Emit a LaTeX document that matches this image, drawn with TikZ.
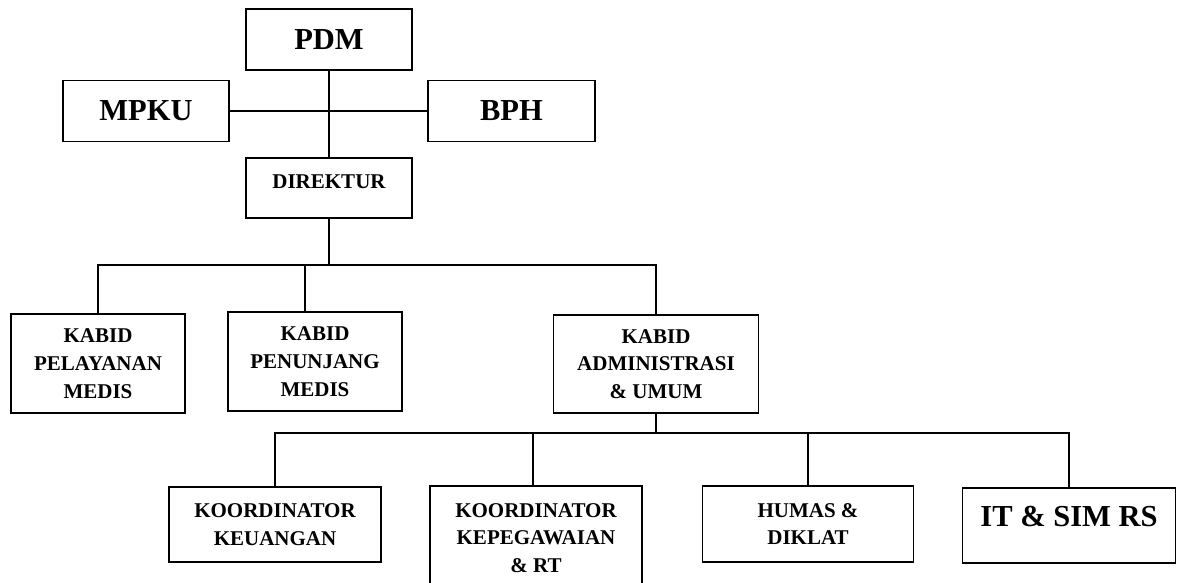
\documentclass[tikz,border=0pt]{standalone}
\usepackage{fontspec}
\setmainfont{Liberation Serif}
\usetikzlibrary{positioning}

\begin{document}
\begin{tikzpicture}[x=1pt,y=-1pt,
  box/.style={draw,line width=1.2pt,inner sep=0pt,align=center,
    font=\bfseries\fontsize{21}{27.7}\selectfont},
  bigbox/.style={box,font=\bfseries\fontsize{30.5}{36}\selectfont},
  link/.style={line width=2pt}]
 \useasboundingbox (0,0) rectangle (1181,583);
 \clip (0,0) rectangle (1181,583);
 % top
 \node[bigbox,minimum width=166pt,minimum height=61pt] (pdm) at (329,39.5) {PDM};
 \node[bigbox,minimum width=166pt,minimum height=61pt] (mpku) at (146,111) {MPKU};
 \node[bigbox,minimum width=167pt,minimum height=61pt] (bph) at (511.5,111) {BPH};
 \node[box,minimum width=166pt,minimum height=60pt,text depth=13pt] (direktur) at (329,188) {DIREKTUR};
 % kabid
 \node[box,minimum width=174pt,minimum height=99pt] (pelayanan) at (98,363.5) {KABID\\PELAYANAN\\MEDIS};
 \node[box,minimum width=174pt,minimum height=99pt] (penunjang) at (315,361.5) {KABID\\PENUNJANG\\MEDIS};
 \node[box,minimum width=205pt,minimum height=98pt] (admin) at (656,364) {KABID\\ADMINISTRASI\\\& UMUM};
 % koordinator
 \node[box,minimum width=212pt,minimum height=75pt] (keuangan) at (275,524.5) {KOORDINATOR\\KEUANGAN};
 \node[box,minimum width=212pt,minimum height=104pt] (kepeg) at (536,538) {KOORDINATOR\\KEPEGAWAIAN\\\& RT};
 \node[box,minimum width=211pt,minimum height=76pt] (humas) at (808,524) {HUMAS \&\\DIKLAT};
 \node[bigbox,minimum width=213pt,minimum height=75pt,text depth=19pt] (it) at (1069,525.5) {IT \& SIM RS};
 % lines
 \draw[link] (pdm) -- (direktur);
 \draw[link] (mpku) -- (bph);
 \coordinate (bar1) at (329,265);
 \draw[link] (direktur) -- (bar1);
 \draw[link] (pelayanan.north) |- (bar1 -| admin.north) -- (admin.north);
 \draw[link] ([xshift=-10pt]penunjang.north) -- ([xshift=-10pt]penunjang.north |- bar1);
 \coordinate (bar2) at (656,433);
 \draw[link] (admin) -- (bar2);
 \draw[link] (keuangan.north) |- (bar2 -| it.north) -- (it.north);
 \draw[link] ([xshift=-3pt]kepeg.north) -- ([xshift=-3pt]kepeg.north |- bar2);
 \draw[link] (humas.north) -- (humas.north |- bar2);
\end{tikzpicture}
\end{document}
